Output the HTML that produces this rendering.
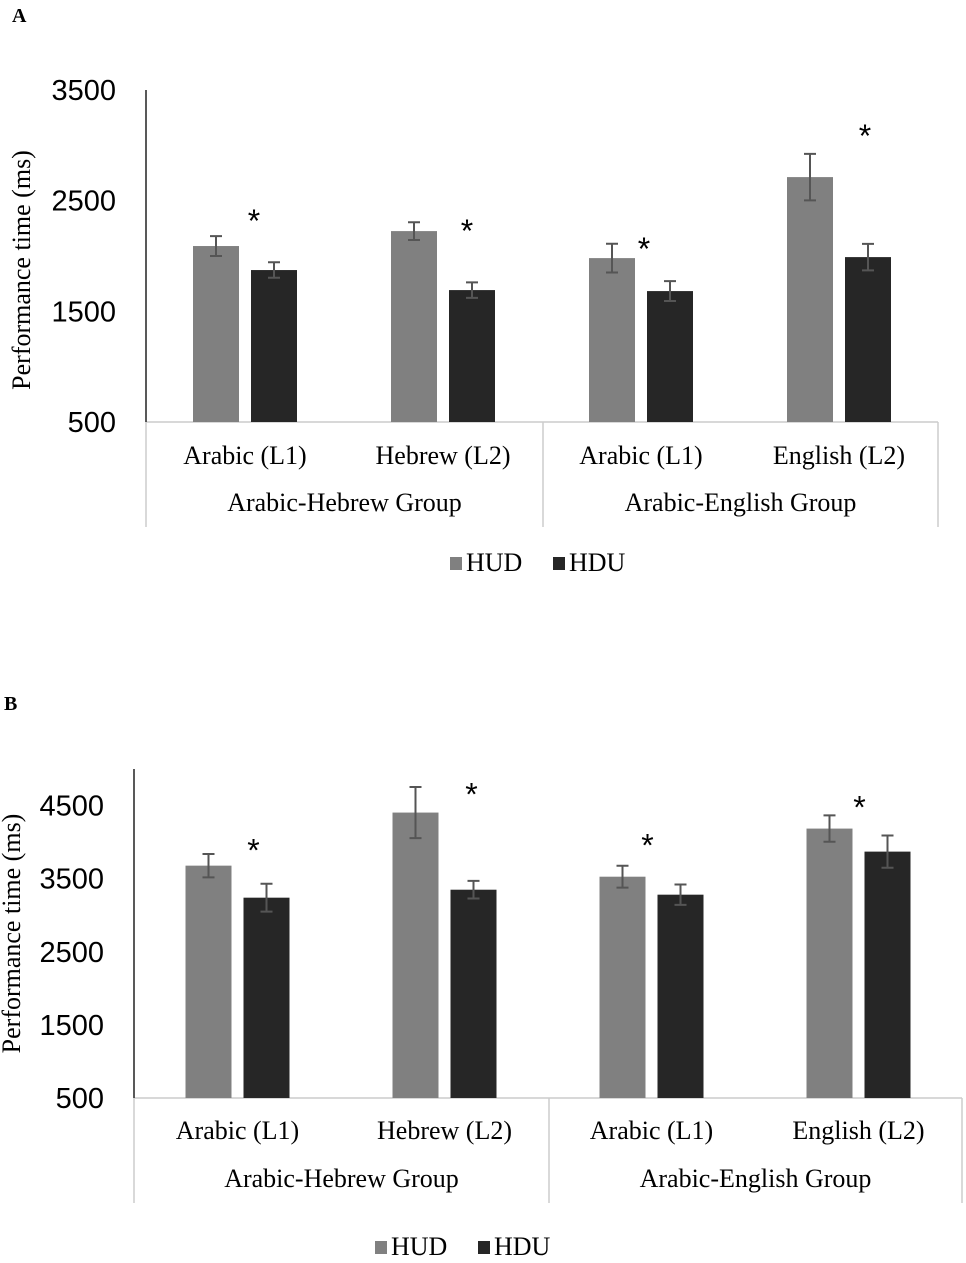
<!DOCTYPE html>
<html><head><meta charset="utf-8"><style>
html,body{margin:0;padding:0;background:#fff;}
svg text{font-family:"Liberation Serif",serif;}
</style></head><body>
<svg id="svg" width="966" height="1258" viewBox="0 0 966 1258" xmlns="http://www.w3.org/2000/svg"></svg>
<script>
const categories = ["Arabic (L1)","Hebrew (L2)","Arabic (L1)","English (L2)"];
const groups = ["Arabic-Hebrew Group","Arabic-English Group"];
const seriesNames = ["HUD","HDU"];
const ticksA = [500,1500,2500,3500];
const hudA = [2090,2225,1981,2713];
const hduA = [1873,1692,1683,1990];
const hudErrA = [90,80,130,210];
const hduErrA = [70,70,90,120];
const starA = [2370,2280,2117,3140];
const ticksB = [500,1500,2500,3500,4500];
const hudB = [3678,4404,3527,4185];
const hduB = [3240,3349,3281,3870];
const hudErrB = [160,350,150,180];
const hduErrB = [190,120,140,220];
const starB = [3966,4733,4034,4555];
const colors = ["#808080","#262626"];
const NS="http://www.w3.org/2000/svg";
const svg=document.getElementById('svg');
function mk(tag,attrs,parent){const e=document.createElementNS(NS,tag);for(const k in attrs)e.setAttribute(k,attrs[k]);(parent||svg).appendChild(e);return e;}
function txt(s,attrs,parent){const e=mk('text',attrs,parent);e.textContent=s;return e;}

function chart(cfg){
  const g=mk('g',{});
  
  
  const y=v=>cfg.y0-(v-cfg.vmin)*(cfg.y0-cfg.ytop)/(cfg.vmax-cfg.vmin);
  const pl=txt(cfg.letter,{x:cfg.lx,y:cfg.ly,'font-size':20,'font-weight':'bold'},g);
  
  
  cfg.ticks.forEach(t=>{
    const e=txt(String(t),{x:cfg.ax-30,y:y(t)+10,'font-size':29,'text-anchor':'end',style:'font-family:"Liberation Sans",sans-serif'},g);
    
    
  });
  const yt=txt('Performance time (ms)',{x:0,y:0,'font-size':26,'text-anchor':'middle',transform:`translate(${cfg.ytx},${(cfg.ytop+cfg.y0)/2+cfg.ytoff}) rotate(-90)`},g);
  
  
  const xa=mk('line',{x1:cfg.ax,y1:cfg.y0,x2:cfg.xr,y2:cfg.y0,stroke:'#ccc','stroke-width':1.5},g);
  
  
  [cfg.ax,cfg.mid,cfg.xr].forEach(x=>{
    const l=mk('line',{x1:x,y1:cfg.y0,x2:x,y2:cfg.gy+16,stroke:'#ccc','stroke-width':1.5},g);
    
    
  });
  const ax=mk('line',{x1:cfg.ax,y1:cfg.ytop,x2:cfg.ax,y2:cfg.y0,stroke:'#222','stroke-width':1.5},g);
  
  
  const step=(cfg.xr-cfg.ax)/4;
  categories.forEach((c,i)=>{
    const cx=cfg.ax+step*(i+0.5);
    const t=txt(c,{x:cx,y:cfg.cy,'font-size':26,'text-anchor':'middle'},g);
    
    
    const vals=[cfg.hud[i],cfg.hdu[i]], errs=[cfg.hudErr[i],cfg.hduErr[i]];
    vals.forEach((v,j)=>{
      const bx=cx-52+j*58;
      const r=mk('rect',{x:bx,y:y(v),width:46,height:cfg.y0-y(v),fill:colors[j]},g);
      
      
      const mx=bx+23,t1=y(v+errs[j]),t2=y(v-errs[j]);
      const eg=mk('path',{d:`M${mx},${t1}V${t2}M${mx-6},${t1}H${mx+6}M${mx-6},${t2}H${mx+6}`,stroke:'#555','stroke-width':2,fill:'none'},g);
      
      
    });
    const s=txt('*',{x:cx+29+cfg.starDx[i],y:y(cfg.star[i])+17,'font-size':32,'text-anchor':'middle',style:'font-family:"Liberation Sans",sans-serif'},g);
    
    
  });
  groups.forEach((gn,i)=>{
    const gx=i==0?(cfg.ax+cfg.mid)/2:(cfg.mid+cfg.xr)/2;
    const t=txt(gn,{x:gx,y:cfg.gy,'font-size':26,'text-anchor':'middle'},g);
    
    
  });
  seriesNames.forEach((n,j)=>{
    const lx=cfg.legx+j*103;
    const r=mk('rect',{x:lx,y:cfg.legy-13,width:12,height:13,fill:colors[j]},g);
    
    
    const t=txt(n,{x:lx+16,y:cfg.legy+1,'font-size':26},g);
    
    
  });
}
chart({name:'chart-a',letter:'A',lx:12,ly:22,ax:146,ytop:90,y0:422,vmin:500,vmax:3500,ticks:ticksA,
  hud:hudA,hdu:hduA,hudErr:hudErrA,hduErr:hduErrA,star:starA,starDx:[-20,-5,-26,-3],
  xr:938,mid:543,cy:464,gy:511,ytx:30,ytoff:14,legx:450,legy:570});
chart({name:'chart-b',letter:'B',lx:4,ly:710,ax:134,ytop:769,y0:1098,vmin:500,vmax:5000,ticks:ticksB,
  hud:hudB,hdu:hduB,hudErr:hudErrB,hduErr:hduErrB,star:starB,starDx:[-13,-2,-33,-28],
  xr:962,mid:549,cy:1139,gy:1187,ytx:20,ytoff:0,legx:375,legy:1254});
</script>
</body></html>
